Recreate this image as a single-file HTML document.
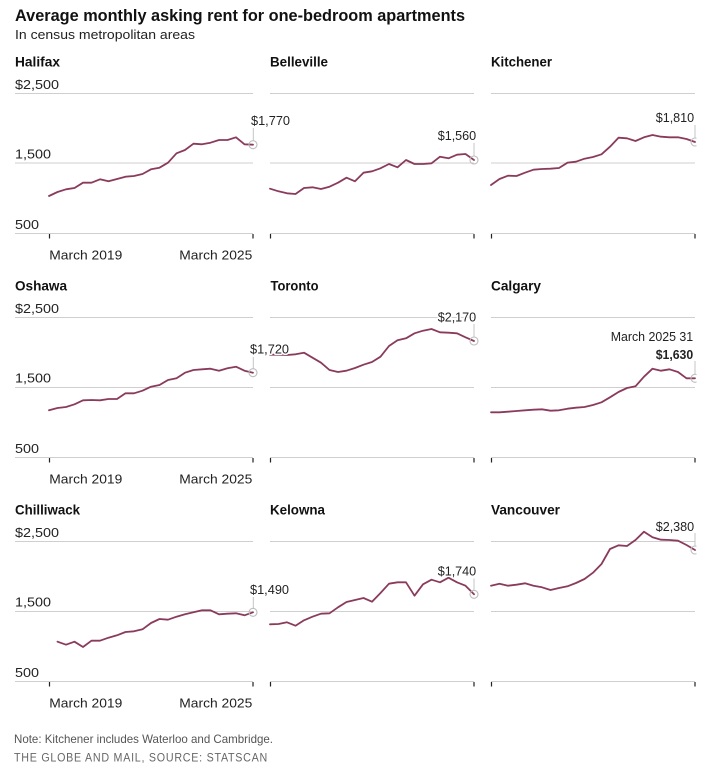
<!DOCTYPE html>
<html><head><meta charset="utf-8"><style>
html,body{margin:0;padding:0;background:#fff;}
svg{display:block;font-family:"Liberation Sans",Arial,sans-serif;}
.t{font-weight:bold;font-size:14px;fill:#111;}
.ax{font-size:13px;fill:#222;}
.g{stroke:#cfcfcf;stroke-width:1;fill:none;}
.tk{stroke:#222;stroke-width:1.2;}
.ln{fill:none;stroke:#8a3b5c;stroke-width:1.8;stroke-linejoin:round;stroke-linecap:round;}
.v{font-size:13px;fill:#222;stroke:#fff;stroke-width:3;paint-order:stroke;stroke-linejoin:round;}
.c{stroke:#c4c4c4;stroke-width:1;}
.ci{fill:none;stroke:#bdbdbd;stroke-width:1.1;}
</style></head><body>
<svg width="712" height="769" viewBox="0 0 712 769" xmlns="http://www.w3.org/2000/svg">
<defs><clipPath id="c3"><rect x="480" y="0" width="216.5" height="769"/></clipPath></defs>
<text x="15" y="21" font-size="17" font-weight="bold" fill="#111" textLength="450" lengthAdjust="spacingAndGlyphs">Average monthly asking rent for one-bedroom apartments</text>
<text x="15" y="39" font-size="13" fill="#222" textLength="180" lengthAdjust="spacingAndGlyphs">In census metropolitan areas</text>

<!-- panel titles -->
<text class="t" x="15" y="66.5" textLength="45" lengthAdjust="spacingAndGlyphs">Halifax</text>
<text class="t" x="270" y="66.5" textLength="58" lengthAdjust="spacingAndGlyphs">Belleville</text>
<text class="t" x="491" y="66.5" textLength="61" lengthAdjust="spacingAndGlyphs">Kitchener</text>
<text class="t" x="15" y="290.5" textLength="52" lengthAdjust="spacingAndGlyphs">Oshawa</text>
<text class="t" x="270.5" y="290.5" textLength="48" lengthAdjust="spacingAndGlyphs">Toronto</text>
<text class="t" x="491" y="290.5" textLength="50" lengthAdjust="spacingAndGlyphs">Calgary</text>
<text class="t" x="15" y="514.5" textLength="65" lengthAdjust="spacingAndGlyphs">Chilliwack</text>
<text class="t" x="270" y="514.5" textLength="55" lengthAdjust="spacingAndGlyphs">Kelowna</text>
<text class="t" x="491" y="514.5" textLength="69" lengthAdjust="spacingAndGlyphs">Vancouver</text>

<!-- gridlines -->
<g class="g">
<line x1="15" x2="253" y1="93.5" y2="93.5"/><line x1="15" x2="253" y1="163" y2="163"/><line x1="15" x2="253" y1="233.5" y2="233.5"/>
<line x1="270" x2="474" y1="93.5" y2="93.5"/><line x1="270" x2="474" y1="163" y2="163"/><line x1="270" x2="474" y1="233.5" y2="233.5"/>
<line x1="491" x2="695" y1="93.5" y2="93.5"/><line x1="491" x2="695" y1="163" y2="163"/><line x1="491" x2="695" y1="233.5" y2="233.5"/>
<line x1="15" x2="253" y1="317.5" y2="317.5"/><line x1="15" x2="253" y1="387.5" y2="387.5"/><line x1="15" x2="253" y1="457.5" y2="457.5"/>
<line x1="270" x2="474" y1="317.5" y2="317.5"/><line x1="270" x2="474" y1="387.5" y2="387.5"/><line x1="270" x2="474" y1="457.5" y2="457.5"/>
<line x1="491" x2="695" y1="317.5" y2="317.5"/><line x1="491" x2="695" y1="387.5" y2="387.5"/><line x1="491" x2="695" y1="457.5" y2="457.5"/>
<line x1="15" x2="253" y1="541.5" y2="541.5"/><line x1="15" x2="253" y1="611.5" y2="611.5"/><line x1="15" x2="253" y1="681.5" y2="681.5"/>
<line x1="270" x2="474" y1="541.5" y2="541.5"/><line x1="270" x2="474" y1="611.5" y2="611.5"/><line x1="270" x2="474" y1="681.5" y2="681.5"/>
<line x1="491" x2="695" y1="541.5" y2="541.5"/><line x1="491" x2="695" y1="611.5" y2="611.5"/><line x1="491" x2="695" y1="681.5" y2="681.5"/>
</g>

<!-- ticks -->
<g class="tk">
<line x1="49.5" x2="49.5" y1="234" y2="238.5"/><line x1="253" x2="253" y1="234" y2="238.5"/>
<line x1="270.5" x2="270.5" y1="234" y2="238.5"/><line x1="474" x2="474" y1="234" y2="238.5"/>
<line x1="491.5" x2="491.5" y1="234" y2="238.5"/><line x1="695" x2="695" y1="234" y2="238.5"/>
<line x1="49.5" x2="49.5" y1="458" y2="462.5"/><line x1="253" x2="253" y1="458" y2="462.5"/>
<line x1="270.5" x2="270.5" y1="458" y2="462.5"/><line x1="474" x2="474" y1="458" y2="462.5"/>
<line x1="491.5" x2="491.5" y1="458" y2="462.5"/><line x1="695" x2="695" y1="458" y2="462.5"/>
<line x1="49.5" x2="49.5" y1="682" y2="686.5"/><line x1="253" x2="253" y1="682" y2="686.5"/>
<line x1="270.5" x2="270.5" y1="682" y2="686.5"/><line x1="474" x2="474" y1="682" y2="686.5"/>
<line x1="491.5" x2="491.5" y1="682" y2="686.5"/><line x1="695" x2="695" y1="682" y2="686.5"/>
</g>

<!-- y axis labels -->
<g class="ax">
<text x="15" y="89" textLength="44" lengthAdjust="spacingAndGlyphs">$2,500</text>
<text x="15" y="158.5" textLength="36" lengthAdjust="spacingAndGlyphs">1,500</text>
<text x="15" y="229" textLength="24" lengthAdjust="spacingAndGlyphs">500</text>
<text x="15" y="313" textLength="44" lengthAdjust="spacingAndGlyphs">$2,500</text>
<text x="15" y="382.5" textLength="36" lengthAdjust="spacingAndGlyphs">1,500</text>
<text x="15" y="453" textLength="24" lengthAdjust="spacingAndGlyphs">500</text>
<text x="15" y="537" textLength="44" lengthAdjust="spacingAndGlyphs">$2,500</text>
<text x="15" y="606.5" textLength="36" lengthAdjust="spacingAndGlyphs">1,500</text>
<text x="15" y="677" textLength="24" lengthAdjust="spacingAndGlyphs">500</text>
<!-- x labels -->
<text x="49.3" y="259.3" textLength="73" lengthAdjust="spacingAndGlyphs">March 2019</text>
<text x="179.3" y="259.3" textLength="73" lengthAdjust="spacingAndGlyphs">March 2025</text>
<text x="49.3" y="483.3" textLength="73" lengthAdjust="spacingAndGlyphs">March 2019</text>
<text x="179.3" y="483.3" textLength="73" lengthAdjust="spacingAndGlyphs">March 2025</text>
<text x="49.3" y="707.3" textLength="73" lengthAdjust="spacingAndGlyphs">March 2019</text>
<text x="179.3" y="707.3" textLength="73" lengthAdjust="spacingAndGlyphs">March 2025</text>
</g>

<!-- series lines -->
<polyline class="ln" points="49,196 57.5,192 66,189.3 74.5,188 83,182.7 91.5,182.7 100,179.3 108.5,181.3 117,179 125.5,176.7 134,176 142.5,174 151,169.3 159.5,167.7 168,162.7 176.5,153.3 185,150 193.5,143.7 202,144.3 210.5,142.7 219,140 227.5,140 236,137.3 244.5,144.3 253,144.7"/>
<polyline class="ln" points="270,188.7 278.5,191.3 287,193.3 295.5,194 304,188 312.5,187.3 321,189 329.5,186.7 338,182.7 346.5,177.7 355,181.3 363.5,172.7 372,171.3 380.5,168.3 389,164 397.5,167.3 406,160 414.5,164 423,164 431.5,163.3 440,156.7 448.5,158.3 457,154.7 465.5,154 474,160"/>
<polyline class="ln" points="49,410.3 57.5,408 66,407 74.5,404.3 83,400.3 91.5,400 100,400.3 108.5,399 117,399 125.5,393.3 134,393.3 142.5,390.7 151,386.7 159.5,385 168,380 176.5,378.3 185,372.7 193.5,370 202,369.3 210.5,368.7 219,370.7 227.5,368.3 236,366.7 244.5,370.7 253,372.7"/>
<polyline class="ln" points="270,354.7 278.5,354.7 287,355 295.5,354.3 304,352.7 312.5,357.7 321,362.7 329.5,370 338,372 346.5,370.7 355,368 363.5,364.7 372,362 380.5,356.7 389,346 397.5,340.3 406,338.3 414.5,333.3 423,330.7 431.5,329 440,332.3 448.5,332.7 457,333.3 465.5,337.3 474,341"/>
<polyline class="ln" points="57.5,641.7 66,644.7 74.5,641.7 83,647 91.5,640.7 100,640.7 108.5,637.7 117,635.3 125.5,632 134,631.3 142.5,629.3 151,623 159.5,619 168,619.7 176.5,616.7 185,614.3 193.5,612.3 202,610.3 210.5,610.3 219,614.3 227.5,613.7 236,613.3 244.5,615.3 253,612.3"/>
<polyline class="ln" points="270,624.3 278.5,624 287,622.3 295.5,625.7 304,620.3 312.5,616.7 321,613.7 329.5,613.3 338,607.3 346.5,602 355,600 363.5,598 372,601.7 380.5,593 389,583.7 397.5,582.3 406,582.3 414.5,595.7 423,584.3 431.5,579.7 440,582.3 448.5,577.7 457,582.3 465.5,585.7 474,594.3"/>
<g clip-path="url(#c3)">
<polyline class="ln" points="491,185 499.5,179 508,175.7 516.5,176 525,172.7 533.5,169.7 542,169 550.5,168.7 559,168 567.5,162.7 576,161.7 584.5,158.7 593,157 601.5,154.3 610,146.7 618.5,137.7 627,138.3 635.5,141 644,137.3 652.5,135 661,136.7 669.5,137.3 678,137.3 686.5,139 695,142"/>
<polyline class="ln" points="491,412.3 499.5,412.3 508,411.7 516.5,411 525,410.3 533.5,409.7 542,409.3 550.5,410.7 559,410.3 567.5,408.7 576,407.7 584.5,407 593,405 601.5,402.3 610,397.3 618.5,392 627,388 635.5,386.3 644,376.7 652.5,368.7 661,370.7 669.5,369.3 678,372 686.5,378.3 695,378.3"/>
<polyline class="ln" points="491,585.7 499.5,583.7 508,585.7 516.5,584.7 525,583.3 533.5,585.7 542,587.3 550.5,590 559,588 567.5,586.3 576,583 584.5,579 593,572.7 601.5,564 610,549 618.5,545.3 627,546 635.5,540 644,531.7 652.5,537.3 661,539.7 669.5,540 678,540.7 686.5,545 695,550"/>
<line class="c" x1="695" x2="695" y1="125" y2="138"/><circle class="ci" cx="695" cy="142" r="4"/>
<line class="c" x1="695" x2="695" y1="361" y2="374.3"/><circle class="ci" cx="695" cy="378.3" r="4"/>
<line class="c" x1="695" x2="695" y1="533" y2="546"/><circle class="ci" cx="695" cy="550" r="4"/>
</g>

<!-- connectors & circles -->
<line class="c" x1="253.3" x2="253.3" y1="128" y2="140.7"/><circle class="ci" cx="253" cy="144.7" r="4"/>
<line class="c" x1="474" x2="474" y1="143" y2="156"/><circle class="ci" cx="474" cy="160" r="4"/>
<line class="c" x1="253.3" x2="253.3" y1="357" y2="368.7"/><circle class="ci" cx="253" cy="372.7" r="4"/>
<line class="c" x1="474" x2="474" y1="324" y2="337"/><circle class="ci" cx="474" cy="341" r="4"/>
<line class="c" x1="253.3" x2="253.3" y1="597" y2="608.3"/><circle class="ci" cx="253" cy="612.3" r="4"/>
<line class="c" x1="474" x2="474" y1="578.5" y2="590.3"/><circle class="ci" cx="474" cy="594.3" r="4"/>

<!-- value labels -->
<text class="v" x="251" y="125" textLength="39" lengthAdjust="spacingAndGlyphs">$1,770</text>
<text class="v" x="437.7" y="140" textLength="38.5" lengthAdjust="spacingAndGlyphs">$1,560</text>
<text class="v" x="655.7" y="122" textLength="38.5" lengthAdjust="spacingAndGlyphs">$1,810</text>
<text class="v" x="250" y="353.7" textLength="39" lengthAdjust="spacingAndGlyphs">$1,720</text>
<text class="v" x="437.7" y="321.5" textLength="38.5" lengthAdjust="spacingAndGlyphs">$2,170</text>
<text class="v" x="610.7" y="341" textLength="82.5" lengthAdjust="spacingAndGlyphs">March 2025 31</text>
<text class="v" x="655.7" y="359" font-weight="bold" textLength="37.5" lengthAdjust="spacingAndGlyphs">$1,630</text>
<text class="v" x="250" y="594" textLength="39" lengthAdjust="spacingAndGlyphs">$1,490</text>
<text class="v" x="437.7" y="575.5" textLength="38.5" lengthAdjust="spacingAndGlyphs">$1,740</text>
<text class="v" x="655.7" y="531" textLength="38.5" lengthAdjust="spacingAndGlyphs">$2,380</text>

<!-- footer -->
<text x="14" y="743" font-size="12" fill="#555" textLength="259" lengthAdjust="spacingAndGlyphs">Note: Kitchener includes Waterloo and Cambridge.</text>
<text x="14" y="761.5" font-size="11.5" fill="#666" letter-spacing="0.8" textLength="254" lengthAdjust="spacingAndGlyphs">THE GLOBE AND MAIL, SOURCE: STATSCAN</text>
</svg>
</body></html>
